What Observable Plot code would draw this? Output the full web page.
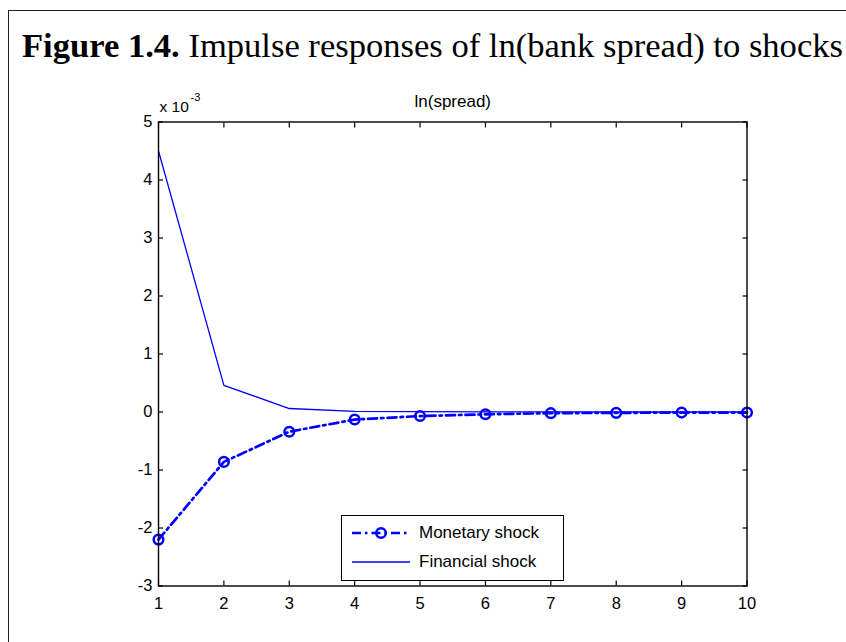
<!DOCTYPE html>
<html><head><meta charset="utf-8">
<script src="https://cdn.jsdelivr.net/npm/d3@7"></script>
<script src="https://cdn.jsdelivr.net/npm/@observablehq/plot@0.6"></script>
<style>
html,body{margin:0;padding:0;background:#fff;}
#wrap{position:relative;width:846px;height:642px;overflow:hidden;font-family:"Liberation Sans",Arial,sans-serif;background:#fff;}
#border{position:absolute;left:8px;top:10px;width:900px;height:700px;border-left:1px solid #222;border-top:1px solid #222;}
#chart{position:absolute;left:0;top:0;}
#title{position:absolute;left:0;top:0;}
#legend{position:absolute;left:341px;top:515px;width:221px;height:64px;border:1.3px solid #000;background:#fff;}
.row{position:absolute;left:0;height:20px;display:flex;align-items:center;font-size:17px;color:#000;white-space:nowrap;}
.row svg{margin-left:10px;margin-right:9px;}
</style></head><body>
<div id="wrap">
  <div id="border"></div>
  <div id="chart"></div>
  <svg id="title" width="846" height="80"></svg>
  <div id="legend"></div>
</div>
<script>
const figureLabel = "Figure 1.4.";
const figureTitle = " Impulse responses of ln(bank spread) to shocks";
const panelTitle = "ln(spread)";
const exponentLabel = "x 10";
const exponentPower = "-3";
const periods = [1, 2, 3, 4, 5, 6, 7, 8, 9, 10];
const monetary = [-2.2, -0.86, -0.34, -0.13, -0.07, -0.04, -0.02, -0.015, -0.01, -0.01];
const financial = [4.5, 0.46, 0.06, 0.01, 0.005, 0.002, 0.001, 0, 0, 0];
const seriesNames = ["Monetary shock", "Financial shock"];
const xTicks = [1, 2, 3, 4, 5, 6, 7, 8, 9, 10];
const yTicks = [-3, -2, -1, 0, 1, 2, 3, 4, 5];

const blue = "#0000ff";
const dash = "9,4,2.5,4";
const monData = periods.map((p, i) => ({period: p, value: monetary[i]}));
const finData = periods.map((p, i) => ({period: p, value: financial[i]}));

const fmt = d => String(d);
const blank = () => "";

const chart = Plot.plot({
  width: 846,
  height: 642,
  marginLeft: 158,
  marginRight: 99.5,
  marginTop: 121.5,
  marginBottom: 56.5,
  style: {fontFamily: "'Liberation Sans', Arial, sans-serif", background: "transparent", color: "#000"},
  x: {domain: [1, 10], label: null},
  y: {domain: [-3, 5], label: null},
  marks: [
    Plot.axisX(xTicks, {anchor: "bottom", tickSize: 0, tickPadding: 11, tickFormat: fmt, fontSize: 16.5, label: null}),
    Plot.axisX(xTicks, {anchor: "bottom", tickSize: -5, tickFormat: blank, label: null, strokeWidth: 1.2}),
    Plot.axisX(xTicks, {anchor: "top", tickSize: -5, tickFormat: blank, label: null, strokeWidth: 1.2}),
    Plot.axisY(yTicks, {anchor: "left", tickSize: 0, tickPadding: 6, tickFormat: fmt, fontSize: 16.5, label: null}),
    Plot.axisY(yTicks, {anchor: "left", tickSize: -5, tickFormat: blank, label: null, strokeWidth: 1.2}),
    Plot.axisY(yTicks, {anchor: "right", tickSize: -5, tickFormat: blank, label: null, strokeWidth: 1.2}),
    Plot.line(finData, {x: "period", y: "value", stroke: blue, strokeWidth: 1.3}),
    Plot.line(monData, {x: "period", y: "value", stroke: blue, strokeWidth: 2.7, strokeDasharray: dash}),
    Plot.dot(monData, {x: "period", y: "value", r: 4.8, stroke: blue, strokeWidth: 2.5, fill: "none"}),
    Plot.frame({stroke: "#000", strokeWidth: 1.4}),
    Plot.text([panelTitle], {frameAnchor: "top", lineAnchor: "bottom", dy: -15, fontSize: 17, text: d => d}),
    Plot.text([exponentLabel], {frameAnchor: "top-left", lineAnchor: "bottom", dx: 1, dy: -10, fontSize: 15.5, textAnchor: "start", text: d => d}),
    Plot.text([exponentPower], {frameAnchor: "top-left", lineAnchor: "bottom", dx: 32, dy: -21, fontSize: 11, textAnchor: "start", text: d => d})
  ]
});
document.getElementById("chart").appendChild(chart);

// Title
const ns = "http://www.w3.org/2000/svg";
const tsvg = document.getElementById("title");
const t = document.createElementNS(ns, "text");
t.setAttribute("x", 22);
t.setAttribute("y", 57);
t.setAttribute("font-family", "'Liberation Serif', 'DejaVu Serif', serif");
t.setAttribute("font-size", 33);
t.setAttribute("textLength", 821);
t.setAttribute("lengthAdjust", "spacingAndGlyphs");
const b = document.createElementNS(ns, "tspan");
b.setAttribute("font-weight", "bold");
b.textContent = figureLabel;
const r = document.createElementNS(ns, "tspan");
r.textContent = figureTitle;
t.appendChild(b); t.appendChild(r);
tsvg.appendChild(t);

// Legend
const legend = document.getElementById("legend");
const rowTops = [7, 36];
seriesNames.forEach((name, i) => {
  const row = document.createElement("div");
  row.className = "row";
  row.style.top = rowTops[i] + "px";
  const sw = i === 0
    ? `<svg width="58" height="20"><line x1="0" y1="10" x2="58" y2="10" stroke="${blue}" stroke-width="2.7" stroke-dasharray="${dash}"/><circle cx="29" cy="10" r="4.8" fill="none" stroke="${blue}" stroke-width="2.5"/></svg>`
    : `<svg width="58" height="20"><line x1="0" y1="10" x2="58" y2="10" stroke="${blue}" stroke-width="1.3"/></svg>`;
  row.innerHTML = sw + `<span>${name}</span>`;
  legend.appendChild(row);
});
</script>
</body></html>
